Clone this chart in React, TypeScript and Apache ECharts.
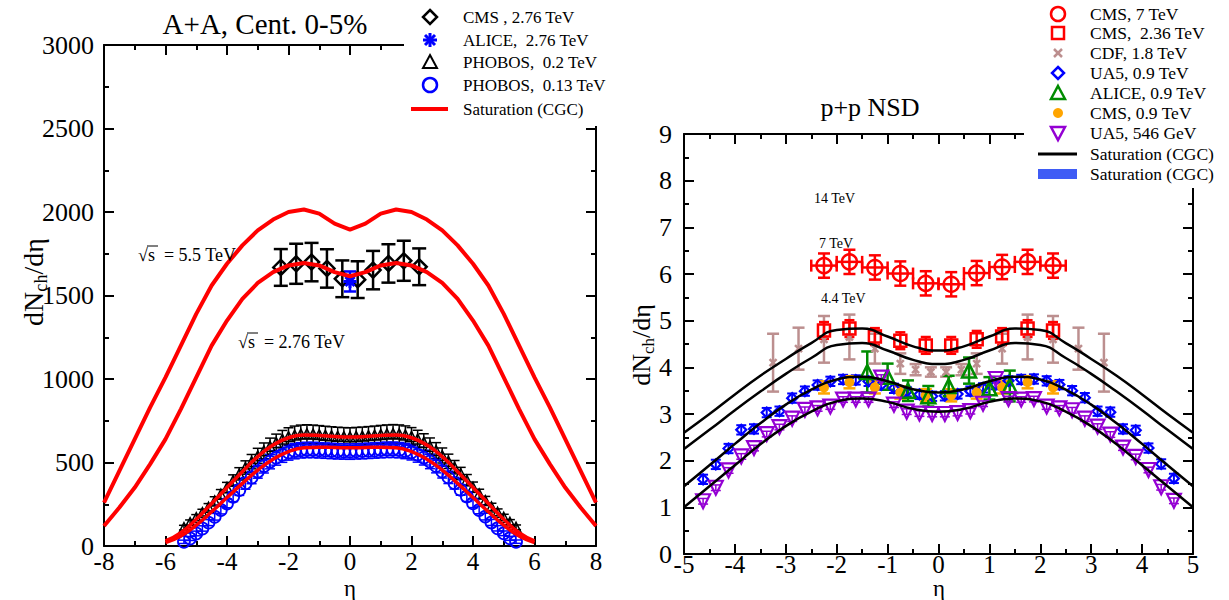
import React, { useEffect, useRef } from 'react';
import * as echarts from 'echarts';

const FONT = "'Liberation Serif', 'DejaVu Serif', serif";
const FONT_PLAIN = 'Liberation Serif';

// ---------------- Left panel (A+A) ----------------
const xTicksLeft = { min: -8, max: 8, interval: 2 };
const yTicksLeft = { min: 0, max: 3000, interval: 500 };

const etaCGCbig = [-8, -7.5, -7, -6.5, -6, -5.5, -5, -4.5, -4, -3.5, -3, -2.5, -2, -1.5, -1, -0.5, 0, 0.5, 1, 1.5, 2, 2.5, 3, 3.5, 4, 4.5, 5, 5.5, 6, 6.5, 7, 7.5, 8];
const cgc55 = [260, 450, 640, 830, 1010, 1200, 1390, 1560, 1690, 1800, 1890, 1955, 2000, 2015, 1990, 1930, 1895, 1930, 1990, 2015, 2000, 1955, 1890, 1800, 1690, 1560, 1390, 1200, 1010, 830, 640, 450, 260];
const cgc276 = [120, 230, 350, 490, 640, 820, 1010, 1200, 1350, 1480, 1575, 1640, 1680, 1695, 1680, 1640, 1615, 1640, 1680, 1695, 1680, 1640, 1575, 1480, 1350, 1200, 1010, 820, 640, 490, 350, 230, 120];

const etaCGCsmall = [-6, -5.5, -5, -4.5, -4, -3.5, -3, -2.5, -2, -1.5, -1, -0.5, 0, 0.5, 1, 1.5, 2, 2.5, 3, 3.5, 4, 4.5, 5, 5.5, 6];
const cgc200 = [30, 80, 160, 255, 350, 445, 535, 605, 648, 665, 662, 655, 652, 655, 662, 665, 648, 605, 535, 445, 350, 255, 160, 80, 30];
const cgc130 = [20, 60, 125, 205, 290, 375, 455, 520, 565, 588, 592, 590, 588, 590, 592, 588, 565, 520, 455, 375, 290, 205, 125, 60, 20];

const etaCMS = [-2.25, -1.75, -1.25, -0.75, -0.25, 0.25, 0.75, 1.25, 1.75, 2.25];
const cmsPbPb = [1668, 1690, 1700, 1662, 1600, 1595, 1652, 1692, 1708, 1672];
const cmsPbPbErr = [110, 120, 115, 115, 110, 110, 115, 115, 120, 110];

const etaALICE = [0];
const alicePbPb = [1584];
const alicePbPbErr = [60];

const etaPHOBOS = [-5.4, -5.2, -5.0, -4.8, -4.6, -4.4, -4.2, -4.0, -3.8, -3.6, -3.4, -3.2, -3.0, -2.8, -2.6, -2.4, -2.2, -2.0, -1.8, -1.6, -1.4, -1.2, -1.0, -0.8, -0.6, -0.4, -0.2, 0, 0.2, 0.4, 0.6, 0.8, 1.0, 1.2, 1.4, 1.6, 1.8, 2.0, 2.2, 2.4, 2.6, 2.8, 3.0, 3.2, 3.4, 3.6, 3.8, 4.0, 4.2, 4.4, 4.6, 4.8, 5.0, 5.2, 5.4];
const phobos200 = [110, 140, 170, 200, 232, 270, 310, 350, 392, 432, 470, 505, 540, 570, 597, 620, 640, 655, 664, 670, 672, 670, 667, 663, 660, 657, 655, 654, 656, 658, 661, 664, 668, 671, 673, 671, 665, 656, 641, 622, 598, 572, 542, 507, 472, 434, 394, 352, 312, 272, 234, 202, 172, 142, 112];
const phobos200Err = [14, 16, 18, 20, 22, 25, 28, 31, 34, 37, 40, 43, 45, 47, 49, 50, 52, 53, 54, 54, 54, 54, 54, 54, 54, 54, 54, 54, 54, 54, 54, 54, 54, 54, 54, 54, 54, 53, 52, 50, 49, 47, 45, 43, 40, 37, 34, 31, 28, 25, 22, 20, 18, 16, 14];
const phobos130 = [25, 45, 75, 105, 140, 175, 215, 255, 295, 335, 375, 410, 445, 478, 505, 528, 546, 560, 568, 573, 575, 575, 573, 571, 569, 567, 566, 565, 567, 568, 570, 572, 574, 576, 576, 574, 569, 561, 547, 529, 506, 479, 446, 411, 376, 336, 296, 256, 216, 176, 141, 106, 76, 46, 26];
const phobos130Err = [10, 12, 14, 16, 18, 20, 23, 26, 29, 32, 35, 37, 39, 41, 43, 44, 45, 46, 46, 46, 46, 46, 46, 46, 46, 46, 46, 46, 46, 46, 46, 46, 46, 46, 46, 46, 46, 46, 45, 44, 43, 41, 39, 37, 35, 32, 29, 26, 23, 20, 18, 16, 14, 12, 10];

// ---------------- Right panel (p+p) ----------------
const xTicksRight = { min: -5, max: 5, interval: 1 };
const yTicksRight = { min: 0, max: 9, interval: 1 };

const etaSat = [-5, -4.5, -4, -3.5, -3, -2.5, -2, -1.5, -1, -0.5, 0, 0.5, 1, 1.5, 2, 2.5, 3, 3.5, 4, 4.5, 5];
const sat236 = [2.6, 3.0, 3.42, 3.82, 4.18, 4.52, 4.8, 4.83, 4.66, 4.45, 4.36, 4.45, 4.66, 4.83, 4.8, 4.52, 4.18, 3.82, 3.42, 3.0, 2.6];
const sat18 = [2.25, 2.66, 3.08, 3.48, 3.86, 4.2, 4.48, 4.52, 4.36, 4.16, 4.07, 4.16, 4.36, 4.52, 4.48, 4.2, 3.86, 3.48, 3.08, 2.66, 2.25];
const sat09 = [1.45, 1.9, 2.36, 2.8, 3.2, 3.52, 3.74, 3.8, 3.7, 3.53, 3.46, 3.53, 3.7, 3.8, 3.74, 3.52, 3.2, 2.8, 2.36, 1.9, 1.45];
const sat546 = [1.0, 1.45, 1.9, 2.35, 2.74, 3.05, 3.27, 3.33, 3.26, 3.11, 3.05, 3.11, 3.26, 3.33, 3.27, 3.05, 2.74, 2.35, 1.9, 1.45, 1.0];

const cms7 = [6.18, 6.26, 6.14, 6.01, 5.80, 5.78, 6.02, 6.15, 6.26, 6.18];
const cms7Err = [0.26, 0.26, 0.26, 0.26, 0.26, 0.26, 0.26, 0.26, 0.26, 0.26];
const cms7XErr = [0.25, 0.25, 0.25, 0.25, 0.25, 0.25, 0.25, 0.25, 0.25, 0.25];

const cms236 = [4.79, 4.83, 4.66, 4.57, 4.47, 4.47, 4.6, 4.66, 4.83, 4.79];
const cms236Err = [0.18, 0.18, 0.18, 0.18, 0.18, 0.18, 0.18, 0.18, 0.18, 0.18];

const etaCDF = [-3.25, -2.75, -2.25, -1.75, -1.25, -0.75, -0.45, -0.15, 0.15, 0.45, 0.75, 1.25, 1.75, 2.25, 2.75, 3.25];
const cdf18 = [4.1, 4.4, 4.6, 4.65, 4.4, 4.08, 3.95, 3.9, 3.9, 3.95, 4.08, 4.4, 4.65, 4.6, 4.4, 4.1];
const cdf18Err = [0.62, 0.45, 0.5, 0.48, 0.32, 0.22, 0.12, 0.1, 0.1, 0.12, 0.22, 0.32, 0.48, 0.5, 0.45, 0.62];

const etaUA5 = [-4.625, -4.375, -4.125, -3.875, -3.625, -3.375, -3.125, -2.875, -2.625, -2.375, -2.125, -1.875, -1.625, -1.375, -1.125, -0.875, -0.625, -0.375, -0.125, 0.125, 0.375, 0.625, 0.875, 1.125, 1.375, 1.625, 1.875, 2.125, 2.375, 2.625, 2.875, 3.125, 3.375, 3.625, 3.875, 4.125, 4.375, 4.625];
const ua509 = [1.6, 1.92, 2.26, 2.66, 2.68, 3.03, 3.06, 3.34, 3.49, 3.62, 3.7, 3.74, 3.73, 3.7, 3.62, 3.55, 3.48, 3.42, 3.38, 3.39, 3.43, 3.49, 3.56, 3.63, 3.71, 3.74, 3.75, 3.71, 3.63, 3.5, 3.35, 3.06, 3.04, 2.68, 2.65, 2.27, 1.93, 1.62];
const ua509Err = [0.1, 0.1, 0.1, 0.1, 0.1, 0.1, 0.1, 0.1, 0.1, 0.1, 0.1, 0.1, 0.1, 0.1, 0.1, 0.1, 0.1, 0.1, 0.1, 0.1, 0.1, 0.1, 0.1, 0.1, 0.1, 0.1, 0.1, 0.1, 0.1, 0.1, 0.1, 0.1, 0.1, 0.1, 0.1, 0.1, 0.1, 0.1];
const ua5546 = [1.13, 1.42, 1.79, 2.09, 2.27, 2.57, 2.72, 2.9, 3.09, 3.12, 3.16, 3.31, 3.31, 3.31, 3.78, 3.2, 3.05, 3.01, 3.0, 3.0, 3.02, 3.06, 3.22, 3.75, 3.32, 3.31, 3.32, 3.16, 3.12, 3.08, 2.9, 2.73, 2.56, 2.28, 2.08, 1.8, 1.43, 1.14];
const ua5546Err = [0.06, 0.06, 0.06, 0.06, 0.06, 0.06, 0.06, 0.06, 0.06, 0.06, 0.06, 0.06, 0.06, 0.06, 0.06, 0.06, 0.06, 0.06, 0.06, 0.06, 0.06, 0.06, 0.06, 0.06, 0.06, 0.06, 0.06, 0.06, 0.06, 0.06, 0.06, 0.06, 0.06, 0.06, 0.06, 0.06, 0.06, 0.06];

const etaALICE09 = [-1.4, -1.0, -0.6, -0.2, 0.2, 0.6, 1.0, 1.4];
const alice09 = [3.9, 3.8, 3.5, 3.38, 3.6, 3.93, 3.55, 3.6];
const alice09Err = [0.44, 0.28, 0.22, 0.22, 0.22, 0.28, 0.24, 0.33];

const cms09 = [3.57, 3.68, 3.57, 3.46, 3.40, 3.40, 3.46, 3.57, 3.68, 3.57];
const cms09Err = [0.13, 0.13, 0.13, 0.13, 0.13, 0.13, 0.13, 0.13, 0.13, 0.13];

const leftLegend = ['CMS , 2.76 TeV', 'ALICE,  2.76 TeV', 'PHOBOS,  0.2 TeV', 'PHOBOS,  0.13 TeV', 'Saturation (CGC)'];
const rightLegend = ['CMS, 7 TeV', 'CMS,  2.36 TeV', 'CDF, 1.8 TeV', 'UA5, 0.9 TeV', 'ALICE, 0.9 TeV', 'CMS, 0.9 TeV', 'UA5, 546 GeV', 'Saturation (CGC)', 'Saturation (CGC)'];

const RED = '#ff0000';
const BLUE = '#0000ff';
const BROWN = '#bc8f8f';
const GREEN = '#008c00';
const ORANGE = '#ffa500';
const PURPLE = '#9400d3';
const NONE = 'rgba(0,0,0,0)';

const pts = (xs: number[], ys: number[]) => xs.map((x, i) => [x, ys[i]]);

function axisBase(grid: number, t: any, pos: string, showLabel: boolean, fs: number, margin: number, lh: number) {
  return {
    type: 'value', gridIndex: grid, min: t.min, max: t.max, interval: t.interval, position: pos,
    axisLine: { show: true, onZero: false, lineStyle: { color: '#000', width: 2 } },
    axisTick: { show: true, inside: true, length: 10, lineStyle: { color: '#000', width: 2 } },
    minorTick: { show: true, splitNumber: 2, length: 5, lineStyle: { color: '#000', width: 2 } },
    splitLine: { show: false }, minorSplitLine: { show: false },
    axisLabel: {
      show: showLabel, color: '#000', fontFamily: FONT_PLAIN, fontSize: fs, margin, lineHeight: lh,
      formatter: (v: number) => String(v),
    },
  };
}

function errSeries(grid: number, xs: number[], ys: number[], es: number[], color: string, cap: number, lw: number, xes?: number[]) {
  return {
    type: 'custom', xAxisIndex: grid * 2, yAxisIndex: grid * 2, silent: true, z: 3,
    data: xs.map((x, i) => (xes ? [x, ys[i], es[i], xes[i]] : [x, ys[i], es[i]])),
    encode: { x: 0, y: 1 },
    renderItem: (_p: any, api: any) => {
      const x = api.value(0), y = api.value(1), e = api.value(2);
      const a = api.coord([x, y + e]);
      const b = api.coord([x, y - e]);
      const st = { stroke: color, lineWidth: lw };
      const ch: any[] = [
        { type: 'line', shape: { x1: a[0], y1: a[1], x2: b[0], y2: b[1] }, style: st },
        { type: 'line', shape: { x1: a[0] - cap, y1: a[1], x2: a[0] + cap, y2: a[1] }, style: st },
        { type: 'line', shape: { x1: b[0] - cap, y1: b[1], x2: b[0] + cap, y2: b[1] }, style: st },
      ];
      if (xes) {
        const xe = api.value(3);
        const l = api.coord([x - xe, y]);
        const r = api.coord([x + xe, y]);
        ch.push({ type: 'line', shape: { x1: l[0], y1: l[1], x2: r[0], y2: r[1] }, style: st });
        ch.push({ type: 'line', shape: { x1: l[0], y1: l[1] - cap, x2: l[0], y2: l[1] + cap }, style: st });
        ch.push({ type: 'line', shape: { x1: r[0], y1: r[1] - cap, x2: r[0], y2: r[1] + cap }, style: st });
      }
      return { type: 'group', children: ch };
    },
  };
}

function sc(grid: number, xs: number[], ys: number[], symbol: string, size: number, color: string, fill: string, bw: number, rotate = 0) {
  return {
    type: 'scatter', xAxisIndex: grid * 2, yAxisIndex: grid * 2, data: pts(xs, ys), symbol, symbolSize: size,
    symbolRotate: rotate, itemStyle: { color: fill, borderColor: color, borderWidth: bw, opacity: 1 }, z: 4, silent: true,
  };
}

function ln(grid: number, xs: number[], ys: number[], color: string, w: number, smooth: boolean) {
  return {
    type: 'line', xAxisIndex: grid * 2, yAxisIndex: grid * 2, data: pts(xs, ys), showSymbol: false, symbol: 'none',
    smooth, lineStyle: { color, width: w }, z: 5, silent: true,
  };
}

const ASTER = 'path://M5,0L5,10M0,5L10,5M1.5,1.5L8.5,8.5M1.5,8.5L8.5,1.5';
const XMARK = 'path://M0,0L10,10M0,10L10,0';

function txt(x: number, y: number, text: string, size: number, align = 'left', vAlign = 'middle', z = 120) {
  return { type: 'text', x, y, z, silent: true, style: { text, fill: '#000', font: `${size}px ${FONT}`, align, verticalAlign: vAlign } };
}
function seg(x1: number, y1: number, x2: number, y2: number, color: string, w: number, z = 120) {
  return { type: 'line', z, silent: true, shape: { x1, y1, x2, y2 }, style: { stroke: color, lineWidth: w } };
}

function buildGraphic() {
  const g: any[] = [];
  // white legend boxes covering the frame corners
  g.push({ type: 'rect', z: 100, silent: true, shape: { x: 404, y: 0, width: 216, height: 126 }, style: { fill: '#fff' } });
  g.push({ type: 'rect', z: 100, silent: true, shape: { x: 1024, y: 0, width: 205, height: 188 }, style: { fill: '#fff' } });

  // left legend
  const ly = [17, 40, 62, 85, 109];
  const lx = 430;
  g.push({ type: 'polygon', z: 120, silent: true, shape: { points: [[lx, ly[0] - 7], [lx + 7, ly[0]], [lx, ly[0] + 7], [lx - 7, ly[0]]] }, style: { fill: NONE, stroke: '#000', lineWidth: 2.5 } });
  g.push(seg(lx, ly[1] - 7, lx, ly[1] + 7, BLUE, 3));
  g.push(seg(lx - 7, ly[1], lx + 7, ly[1], BLUE, 3));
  g.push(seg(lx - 5, ly[1] - 5, lx + 5, ly[1] + 5, BLUE, 3));
  g.push(seg(lx - 5, ly[1] + 5, lx + 5, ly[1] - 5, BLUE, 3));
  g.push({ type: 'polygon', z: 120, silent: true, shape: { points: [[lx, ly[2] - 7], [lx + 7, ly[2] + 6], [lx - 7, ly[2] + 6]] }, style: { fill: NONE, stroke: '#000', lineWidth: 2 } });
  g.push({ type: 'circle', z: 120, silent: true, shape: { cx: lx, cy: ly[3], r: 7 }, style: { fill: NONE, stroke: BLUE, lineWidth: 2.5 } });
  g.push(seg(411, ly[4], 448, ly[4], RED, 4));
  leftLegend.forEach((t, i) => g.push(txt(463, ly[i], t, 17)));

  // right legend
  const ry = [14, 33, 53, 73, 93, 113, 133, 154, 174];
  const rx = 1058;
  g.push({ type: 'circle', z: 120, silent: true, shape: { cx: rx, cy: ry[0], r: 7 }, style: { fill: NONE, stroke: RED, lineWidth: 2.5 } });
  g.push({ type: 'rect', z: 120, silent: true, shape: { x: rx - 6, y: ry[1] - 6, width: 12, height: 12 }, style: { fill: NONE, stroke: RED, lineWidth: 2.5 } });
  g.push(seg(rx - 4, ry[2] - 4, rx + 4, ry[2] + 4, BROWN, 2.5));
  g.push(seg(rx - 4, ry[2] + 4, rx + 4, ry[2] - 4, BROWN, 2.5));
  g.push({ type: 'polygon', z: 120, silent: true, shape: { points: [[rx, ry[3] - 6], [rx + 6, ry[3]], [rx, ry[3] + 6], [rx - 6, ry[3]]] }, style: { fill: NONE, stroke: BLUE, lineWidth: 2.5 } });
  g.push({ type: 'polygon', z: 120, silent: true, shape: { points: [[rx, ry[4] - 7], [rx + 7, ry[4] + 6], [rx - 7, ry[4] + 6]] }, style: { fill: NONE, stroke: GREEN, lineWidth: 2.5 } });
  g.push({ type: 'circle', z: 120, silent: true, shape: { cx: rx, cy: ry[5], r: 5 }, style: { fill: ORANGE } });
  g.push({ type: 'polygon', z: 120, silent: true, shape: { points: [[rx - 7, ry[6] - 6], [rx + 7, ry[6] - 6], [rx, ry[6] + 7]] }, style: { fill: NONE, stroke: PURPLE, lineWidth: 2.5 } });
  g.push(seg(1038, ry[7], 1077, ry[7], '#000', 3));
  g.push({ type: 'rect', z: 120, silent: true, shape: { x: 1038, y: ry[8] - 5, width: 39, height: 10 }, style: { fill: '#3f5cf5' } });
  rightLegend.forEach((t, i) => g.push(txt(1090, ry[i], t, 17.5)));

  // titles
  g.push(txt(265, 24, 'A+A, Cent. 0-5%', 29, 'center'));
  g.push(txt(870, 107, 'p+p NSD', 26, 'center'));
  g.push(txt(350, 600, 'η', 23, 'center', 'bottom'));
  g.push(txt(939, 600, 'η', 23, 'center', 'bottom'));

  // y axis names
  const yname = (x: number, y: number, fs: number) => ({
    type: 'text', x, y, rotation: Math.PI / 2, z: 120, silent: true,
    style: {
      text: '{a|dN}{b|ch}{a|/dη}', align: 'center', verticalAlign: 'middle',
      rich: {
        a: { fontSize: fs, fontFamily: FONT_PLAIN, fill: '#000', lineHeight: fs, verticalAlign: 'top' },
        b: { fontSize: fs * 0.65, fontFamily: FONT_PLAIN, fill: '#000', lineHeight: fs * 0.65, verticalAlign: 'top', padding: [fs * 0.45, 0, 0, 0] },
      },
    },
  });
  g.push(yname(33, 282, 28));
  g.push(yname(641, 345, 26));

  // annotations left
  g.push(txt(138, 255, '√s  = 5.5 TeV', 18));
  g.push(seg(147, 246, 158, 246, '#000', 1));
  g.push(txt(238, 342, '√s  = 2.76 TeV', 18));
  g.push(seg(247, 333, 258, 333, '#000', 1));
  // annotations right
  g.push(txt(814, 198, '14 TeV', 14));
  g.push(txt(819, 243, '7 TeV', 14));
  g.push(txt(821, 298, '4.4 TeV', 14));
  return g;
}

function buildOption() {
  return {
    animation: false,
    grid: [
      { left: 104, top: 45, width: 492, height: 501 },
      { left: 684, top: 134, width: 509, height: 420 },
    ],
    xAxis: [
      axisBase(0, xTicksLeft, 'bottom', true, 25, 8, 15),
      axisBase(0, xTicksLeft, 'top', false, 25, 8, 15),
      axisBase(1, xTicksRight, 'bottom', true, 25, 3, 14),
      axisBase(1, xTicksRight, 'top', false, 25, 3, 14),
    ],
    yAxis: [
      axisBase(0, yTicksLeft, 'left', true, 26, 10, 18),
      axisBase(0, yTicksLeft, 'right', false, 26, 10, 18),
      axisBase(1, yTicksRight, 'left', true, 26, 12, 18),
      axisBase(1, yTicksRight, 'right', false, 26, 12, 18),
    ],
    series: [
      // left
      errSeries(0, etaPHOBOS, phobos200, phobos200Err, '#000', 5, 1.5),
      sc(0, etaPHOBOS, phobos200, 'triangle', 10, '#000', NONE, 1.5),
      errSeries(0, etaPHOBOS, phobos130, phobos130Err, BLUE, 5, 1.5),
      sc(0, etaPHOBOS, phobos130, 'circle', 12, BLUE, NONE, 1.8),
      errSeries(0, etaCMS, cmsPbPb, cmsPbPbErr, '#000', 7, 2.5),
      sc(0, etaCMS, cmsPbPb, 'diamond', 15, '#000', NONE, 2.5),
      errSeries(0, etaALICE, alicePbPb, alicePbPbErr, BLUE, 6, 2.5),
      sc(0, etaALICE, alicePbPb, ASTER, 13, BLUE, NONE, 3),
      ln(0, etaCGCbig, cgc55, RED, 4, false),
      ln(0, etaCGCbig, cgc276, RED, 4, false),
      ln(0, etaCGCsmall, cgc200, RED, 3.5, true),
      ln(0, etaCGCsmall, cgc130, RED, 3.5, true),
      // right
      errSeries(1, etaCDF, cdf18, cdf18Err, BROWN, 6, 2.5),
      sc(1, etaCDF, cdf18, XMARK, 7, BROWN, NONE, 2.5),
      errSeries(1, etaCMS, cms236, cms236Err, RED, 5, 2.5),
      sc(1, etaCMS, cms236, 'rect', 12, RED, NONE, 2.5),
      errSeries(1, etaCMS, cms7, cms7Err, RED, 6, 2.5, cms7XErr),
      sc(1, etaCMS, cms7, 'circle', 15, RED, NONE, 2.5),
      errSeries(1, etaUA5, ua509, ua509Err, BLUE, 5, 2),
      sc(1, etaUA5, ua509, 'diamond', 10, BLUE, NONE, 2.2),
      errSeries(1, etaCMS, cms09, cms09Err, ORANGE, 6, 2.5),
      sc(1, etaCMS, cms09, 'circle', 10, ORANGE, ORANGE, 0),
      errSeries(1, etaALICE09, alice09, alice09Err, GREEN, 6, 2.5),
      sc(1, etaALICE09, alice09, 'triangle', 14, GREEN, NONE, 2.5),
      errSeries(1, etaUA5, ua5546, ua5546Err, PURPLE, 5, 1.5),
      sc(1, etaUA5, ua5546, 'triangle', 14, PURPLE, NONE, 2.2, 180),
      ln(1, etaSat, sat236, '#000', 2.5, true),
      ln(1, etaSat, sat18, '#000', 2.5, true),
      ln(1, etaSat, sat09, '#000', 2.5, true),
      ln(1, etaSat, sat546, '#000', 2.5, true),
    ],
    graphic: buildGraphic(),
  };
}

export default function App() {
  const ref = useRef<HTMLDivElement>(null);
  useEffect(() => {
    document.body.style.margin = '0';
    const chart = echarts.init(ref.current as HTMLDivElement, null, { renderer: 'svg' });
    chart.setOption(buildOption() as any);
    return () => chart.dispose();
  }, []);
  return <div ref={ref} style={{ width: 1229, height: 600, position: 'absolute', left: 0, top: 0, background: '#fff' }} />;
}
